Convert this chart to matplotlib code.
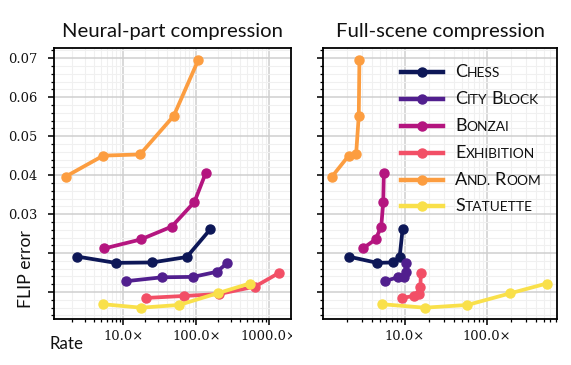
import matplotlib
matplotlib.use("Agg")
import matplotlib.pyplot as plt
from matplotlib.ticker import FixedLocator, MultipleLocator, FuncFormatter, LogLocator, NullFormatter
from matplotlib.offsetbox import AnchoredOffsetbox, VPacker, HPacker, TextArea, DrawingArea
from matplotlib.lines import Line2D
from matplotlib.patches import Rectangle

scenes = ["Chess", "City Block", "Bonzai", "Exhibition", "And. Room", "Statuette"]
colors = ["#0d1757", "#511f8e", "#b4157f", "#f24f66", "#fc9d40", "#f9e04a"]

# neural-part compression: rate (x)
neural_rate = {
    "Chess":      [2.35, 7.8, 24.7, 74, 155],
    "City Block": [10.9, 34, 90, 190, 264],
    "Bonzai":     [5.5, 17.3, 46, 94, 134],
    "Exhibition": [20.4, 67, 203, 635, 1350],
    "And. Room":  [1.61, 5.3, 16.9, 49, 106],
    "Statuette":  [5.2, 17.5, 58, 195, 538],
}
# full-scene compression rates
full_rate = {
    "Chess":      [2.08, 4.63, 7.27, 8.7, 9.46],
    "City Block": [5.69, 8.28, 9.8, 10.3, 10.3],
    "Bonzai":     [3.09, 4.42, 5.19, 5.49, 5.58],
    "Exhibition": [9.27, 12.9, 14.8, 15.6, 15.8],
    "And. Room":  [1.30, 2.08, 2.56, 2.76, 2.81],
    "Statuette":  [5.27, 17.6, 58.5, 196, 542],
}
# FLIP error (same for both panels)
flip = {
    "Chess":      [0.0191, 0.0175, 0.0176, 0.0190, 0.0261],
    "City Block": [0.0128, 0.0138, 0.0139, 0.0152, 0.0174],
    "Bonzai":     [0.0212, 0.0235, 0.0268, 0.0331, 0.0405],
    "Exhibition": [0.0085, 0.0090, 0.0095, 0.0114, 0.0149],
    "And. Room":  [0.0396, 0.0450, 0.0453, 0.0552, 0.0695],
    "Statuette":  [0.0069, 0.0060, 0.0067, 0.0097, 0.0122],
}

titles = ["Neural-part compression", "Full-scene compression"]
xlims = [(1.12, 1980), (1.01, 725)]

sans = "Lato"
serif = "DejaVu Serif"
ink = "#111111"

fig = plt.figure(figsize=(5.71, 3.65), dpi=100)
ax1 = fig.add_axes([54 / 571, 46 / 365, 237 / 571, 271 / 365])
ax2 = fig.add_axes([323 / 571, 46 / 365, 234 / 571, 271 / 365])

for ax, rates, title, xl in zip([ax1, ax2], [neural_rate, full_rate], titles, xlims):
    for s, c in zip(scenes, colors):
        ax.plot(rates[s], flip[s], "-o", color=c, lw=2.7, ms=6.5, zorder=3)
    ax.set_xscale("log")
    ax.set_xlim(*xl)
    ax.set_ylim(0.0031, 0.0726)
    ax.yaxis.set_major_locator(FixedLocator([0.01, 0.02, 0.03, 0.04, 0.05, 0.06, 0.07]))
    ax.yaxis.set_minor_locator(MultipleLocator(0.002))
    ax.xaxis.set_major_locator(LogLocator(base=10))
    ax.xaxis.set_minor_locator(LogLocator(base=10, subs=range(2, 10)))
    ax.xaxis.set_minor_formatter(NullFormatter())
    ax.xaxis.set_major_formatter(FuncFormatter(lambda v, p: "%.1f\u00d7" % v))
    ax.grid(True, which="major", color="#cfcfcf", lw=1.1, zorder=0)
    ax.grid(True, which="minor", color="#f0f0f0", lw=0.8, zorder=0)
    ax.set_axisbelow(True)
    for sp in ax.spines.values():
        sp.set_linewidth(1.3)
    ax.tick_params(which="major", length=4.5, width=1.2, labelsize=9.4, colors=ink)
    ax.tick_params(which="minor", length=2.5, width=0.9)
    ax.tick_params(axis="y", which="major", pad=7.5)
    ax.set_title(title, fontsize=14.6, family=sans, pad=8, color=ink)

ax1.yaxis.set_major_formatter(FuncFormatter(lambda v, p: "%.2f" % v if v > 0.025 else ""))
ax2.yaxis.set_major_formatter(NullFormatter())
for ax in (ax1, ax2):
    for lab in ax.get_xticklabels() + ax.get_yticklabels():
        lab.set_fontfamily(serif)

ax1.set_ylabel("FLIP error", family=sans, fontsize=12.7, color=ink)
ax1.yaxis.set_label_coords(-0.083, 0.186)
ax1.set_xlabel("Rate", family=sans, fontsize=12.2, color=ink)
ax1.xaxis.set_label_coords(0.053, -0.062)

# the left panel's tick labels end at its image border
fig.add_artist(Rectangle((292 / 571, 0), 28 / 571, 44 / 365, transform=fig.transFigure,
                         facecolor="white", edgecolor="none", zorder=10))

# legend with small-caps labels
def smallcaps(label):
    parts = []
    for word in label.split(" "):
        if parts:
            parts.append(TextArea(" ", textprops=dict(fontsize=9.8, family=sans)))
        parts.append(TextArea(word[0], textprops=dict(fontsize=13, family=sans, color=ink)))
        parts.append(TextArea(word[1:].upper(), textprops=dict(fontsize=9.9, family=sans, color=ink)))
    return HPacker(children=parts, align="baseline", pad=0, sep=0)

rows = []
for s, c in zip(scenes, colors):
    da = DrawingArea(30, 19.4, 0, 0)
    da.add_artist(Line2D([0, 30], [9.7, 9.7], color=c, lw=3.2))
    da.add_artist(Line2D([15], [9.7], marker="o", color=c, ms=6.5))
    rows.append(HPacker(children=[da, smallcaps(s)], align="center", pad=0, sep=9))
box = VPacker(children=rows, align="left", pad=0, sep=0)
leg = AnchoredOffsetbox(loc="upper left", child=box, bbox_to_anchor=(0.333, 0.962),
                        bbox_transform=ax2.transAxes, frameon=False, pad=0, borderpad=0)
ax2.add_artist(leg)

fig.savefig("out.png", dpi=100)
